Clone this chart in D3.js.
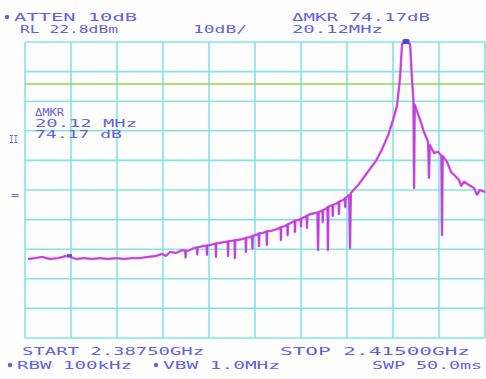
<!DOCTYPE html>
<html lang="en">
<head>
    <meta charset="UTF-8">
    <title>Spectrum Analyzer Trace</title>
    <script src="https://d3js.org/d3.v7.min.js"></script>
    <style>
        body {
            margin: 0;
            background: #fff;
        }
        svg {
            display: block;
        }
        .label {
            font-family: "DejaVu Sans Mono", monospace;
            font-size: 10px;
            fill: #6462dc;
        }
        .grid line {
            stroke: #84e4e4;
            stroke-width: 1.6px;
        }
    </style>
</head>
<body>
    <svg width="486" height="379"></svg>
    <script>
        // Instrument settings
        const startGHz = 2.38750,
              stopGHz = 2.41500,
              refLevel = 22.8,      // dBm, top of screen
              dbPerDiv = 10,
              displayLine = 8.6,    // dBm, green line
              peakOffsetMHz = 22.78, // from start
              deltaMHz = 20.12,
              deltaDb = 74.17;

        // Trace: frequency offset from START (MHz) and level (dBm)
        const traceFreq = [
            0.18, 0.60, 1.02, 1.49, 1.97, 2.45, 2.69, 3.05, 3.53, 4.01,
            4.48, 4.96, 5.44, 5.92, 6.40, 6.87, 7.35, 7.83, 8.19, 8.43,
            8.67, 9.03, 9.39, 9.58, 9.60, 9.62, 9.74, 10.10, 10.28, 10.30,
            10.32, 10.46, 10.70, 10.86, 10.88, 10.90,
            11.06, 11.30, 11.40, 11.42, 11.44, 11.60, 11.90, 12.12, 12.14, 12.16,
            12.32, 12.53, 12.55, 12.57, 12.73, 13.03, 13.19, 13.21, 13.23, 13.45,
            13.58, 13.60, 13.62,
            13.81, 13.97, 13.99, 14.01, 14.23, 14.44, 14.46, 14.48, 14.71, 15.06,
            15.28, 15.30, 15.32, 15.54, 15.68, 15.70, 15.72, 15.90, 16.12, 16.14,
            16.16, 16.38, 16.48, 16.50, 16.52, 16.74,
            16.84, 16.86, 16.88, 17.10, 17.48, 17.52, 17.56, 17.78, 17.80, 17.82,
            17.99, 18.08, 18.11, 18.14, 18.38, 18.40, 18.42,
            18.59, 18.75, 18.77, 18.79, 19.01, 19.13, 19.15, 19.17, 19.38, 19.43,
            19.48, 19.91,
            20.27, 20.62, 20.98, 21.34, 21.70, 22.00, 22.24, 22.42, 22.54, 22.78,
            23.02, 23.14, 23.22, 23.26, 23.30, 23.62, 23.85, 24.10, 24.15, 24.20,
            24.45, 24.69, 24.89, 24.93, 24.97, 25.23, 25.47, 25.71, 25.95, 26.07,
            26.25, 26.54, 26.84, 27.02, 27.20, 27.50
        ];
        const traceLevel = [
            -50.5, -50.2, -49.8, -50.5, -50.2, -49.5, -49.8, -50.5, -50.2, -50.5,
            -50.2, -50.5, -50.2, -50.5, -50.2, -50.2, -49.8, -49.5, -48.8, -49.5,
            -48.1, -48.5, -47.5, -47.6, -50.0, -47.7, -47.8, -46.8, -46.6, -49.0,
            -46.5, -46.4, -46.1, -46.0, -49.1, -45.9,
            -45.8, -45.4, -45.3, -49.8, -45.2, -45.1, -44.8, -44.6, -49.5, -44.5,
            -44.4, -44.2, -50.2, -44.1, -44.1, -43.7, -43.4, -48.1, -43.3, -43.1,
            -42.8, -47.0, -42.7,
            -42.4, -41.9, -46.1, -41.8, -41.7, -41.2, -45.8, -41.1, -41.0, -40.4,
            -39.8, -44.1, -39.7, -39.4, -38.9, -42.5, -38.8, -38.3, -37.6, -41.4,
            -37.5, -37.3, -36.9, -39.5, -36.8, -36.3,
            -35.9, -40.0, -35.8, -35.3, -34.8, -47.5, -34.7, -34.1, -38.0, -34.0,
            -33.6, -33.0, -47.5, -32.8, -32.3, -36.0, -32.2,
            -31.9, -31.2, -35.3, -31.1, -30.6, -30.0, -33.0, -29.9, -28.9, -46.8,
            -28.2, -25.6,
            -22.8, -20.1, -17.4, -13.5, -8.8, -3.6, 1.2, 10.6, 22.1, 22.8,
            22.1, 10.0, 3.0, -26.5, 1.6, -3.5, -7.6, -11.0, -23.1, -12.0,
            -14.7, -14.3, -15.6, -42.4, -15.7, -17.7, -21.1, -22.4, -23.8, -25.8,
            -24.4, -25.5, -26.5, -28.8, -27.2, -27.9
        ];

        const topLeftLabels = ["ATTEN 10dB", "RL 22.8dBm", "10dB/"];
        const topRightLabels = ["\u0394MKR 74.17dB", "20.12MHz"];
        const bottomLabels = ["START 2.38750GHz", "STOP 2.41500GHz",
                              "RBW 100kHz", "VBW 1.0MHz", "SWP 50.0ms"];
        const markerLabels = ["\u0394MKR", "20.12 MHz", "74.17 dB"];

        const svg = d3.select("svg"),
              spanMHz = (stopGHz - startGHz) * 1000;

        const x = d3.scaleLinear().domain([0, spanMHz]).range([25, 485]),
              y = d3.scaleLinear().domain([refLevel - 10 * dbPerDiv, refLevel]).range([338, 42]);

        svg.append("rect").attr("width", 486).attr("height", 379).attr("fill", "#fdfdfd");

        // graticule, 10 x 10 divisions
        const grid = svg.append("g").attr("class", "grid");
        grid.selectAll(".v").data(d3.range(11)).enter().append("line")
            .attr("x1", i => x(i * spanMHz / 10)).attr("x2", i => x(i * spanMHz / 10))
            .attr("y1", y.range()[1]).attr("y2", y.range()[0]);
        grid.selectAll(".h").data(d3.range(11)).enter().append("line")
            .attr("y1", i => y(refLevel - i * dbPerDiv)).attr("y2", i => y(refLevel - i * dbPerDiv))
            .attr("x1", x.range()[0]).attr("x2", x.range()[1]);

        // display line
        svg.append("line")
            .attr("x1", x(0)).attr("x2", x(spanMHz))
            .attr("y1", y(displayLine)).attr("y2", y(displayLine))
            .attr("stroke", "#98d24a").attr("stroke-width", 1.6);

        const pts = traceFreq.map((f, i) => [f, traceLevel[i]]);
        const line = d3.line().x(d => x(d[0])).y(d => y(d[1]));

        svg.append("path").datum(pts)
            .attr("fill", "none").attr("stroke", "#e24ae2")
            .attr("stroke-width", 2.4).attr("stroke-linejoin", "round")
            .attr("d", line);
        svg.append("path").datum(pts)
            .attr("fill", "none").attr("stroke", "#8446d0")
            .attr("stroke-width", 0.9).attr("opacity", 0.6)
            .attr("d", line);

        // markers
        svg.append("rect")
            .attr("x", x(peakOffsetMHz) - 3.5).attr("y", y(refLevel) - 3)
            .attr("width", 7).attr("height", 5).attr("rx", 1.5)
            .attr("fill", "#4a48c8");
        svg.append("rect")
            .attr("x", x(peakOffsetMHz - deltaMHz) - 2.5).attr("y", y(-49.5) - 2)
            .attr("width", 5).attr("height", 3)
            .attr("fill", "#5a58d6");

        function label(t, px, py, w, size) {
            svg.append("text").attr("class", "label")
                .attr("x", px).attr("y", py)
                .attr("font-size", size || 10)
                .attr("textLength", w).attr("lengthAdjust", "spacingAndGlyphs")
                .text(t);
        }
        function dot(px, py) {
            svg.append("circle").attr("cx", px).attr("cy", py).attr("r", 2.2)
                .attr("fill", "#6462dc");
        }

        dot(7, 17);
        label(topLeftLabels[0], 14, 21, 123);
        label(topLeftLabels[1], 20, 33, 98);
        label(topLeftLabels[2], 193, 33, 54);
        label(topRightLabels[0], 292, 21, 138);
        label(topRightLabels[1], 292, 33, 91);

        label(bottomLabels[0], 22, 355, 182);
        label(bottomLabels[1], 280, 355, 190);
        dot(10, 365);
        label(bottomLabels[2], 17, 369, 115);
        dot(156, 365);
        label(bottomLabels[3], 163, 369, 117);
        label(bottomLabels[4], 372, 369, 110);

        label(markerLabels[0], 35, 116, 29, 8.5);
        label(markerLabels[1], 35, 127, 102, 9);
        label(markerLabels[2], 35, 138, 87, 9);

        // side annotations
        label("II", 9, 143, 9);
        label("=", 11, 199, 8);
    </script>
</body>
</html>
